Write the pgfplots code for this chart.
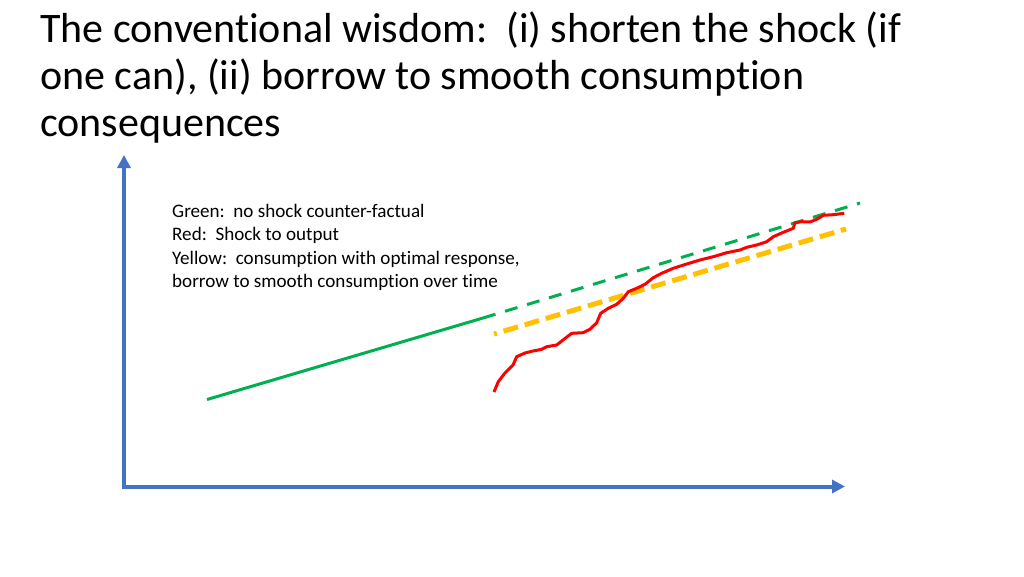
\documentclass[border=0pt]{standalone}
\usepackage{fontspec}
\setmainfont{Carlito}[Ligatures=NoCommon]
\usepackage{pgfplots}
\pgfplotsset{compat=1.18}
\usetikzlibrary{arrows.meta}

\definecolor{axblue}{HTML}{4472C4}
\definecolor{okgreen}{HTML}{00B050}
\definecolor{shockred}{HTML}{FF0000}
\definecolor{cyellow}{HTML}{FFC000}

\begin{document}
\begin{tikzpicture}
\begin{axis}[
    width=1024bp, height=576bp, scale only axis,
    xmin=0, xmax=1024, ymin=0, ymax=576,
    y dir=reverse,
    hide axis, clip=false,
]
    % page frame
    \path (axis cs:0,0) rectangle (axis cs:1024,576);

    % axes drawn as arrows
    \addplot[axblue, line width=4bp, -{Triangle[length=13bp,width=13bp]}]
        coordinates {(124,487) (124,155)};
    \addplot[axblue, line width=4bp, -{Triangle[length=13bp,width=13bp]}]
        coordinates {(122,486.5) (845,486.5)};

    % no shock counter-factual
    \addplot[okgreen, line width=3bp] coordinates {(207,399.5) (483,318)};
    \addplot[okgreen, line width=3bp, dash pattern=on 13bp off 10bp]
        coordinates {(483,318) (860,203)};

    % optimal consumption
    \addplot[cyellow, line width=5bp, dash pattern=on 15bp off 7bp, dash phase=12bp]
        coordinates {(494,334) (846,229)};

    % shock to output
    \addplot[shockred, line width=3bp, line join=round] coordinates {
        (494,392) (498.3,381.7) (505,373) (513,365) (516.7,356.7)
        (525,353) (533,351) (541.7,349.3) (546.7,346.7) (556.7,345)
        (563,340) (571.7,333.3) (583,332.7) (590,329.3) (596.7,322.7)
        (600.7,313.3) (608.3,308.3) (616.7,304.3) (623.3,298.3) (628.3,291.7)
        (636.7,288.3) (645,284.3) (653.3,277.7) (661.7,273.3) (673.3,268.3)
        (686.7,264) (700,260) (713.3,256.7) (726.7,252.7) (740,250)
        (746.7,247.3) (756.7,245) (766.7,241.7) (773.3,236.7) (783.3,232.3)
        (793.3,228.3) (795,222.7) (801.7,221.7) (810,222) (816.7,219.3)
        (823.3,215.3) (833.3,214.7) (844.3,213.3)
    };

    % title
    \begin{scope}[every node/.style={anchor=base west, inner sep=0pt,
        font=\fontsize{42bp}{46bp}\selectfont}]
    \node at (axis cs:40,43) {The conventional wisdom:\ \ (i) shorten the shock (if};
    \node at (axis cs:40,89.5) {one can), (ii) borrow to smooth consumption};
    \node at (axis cs:40,136) {consequences};
    \end{scope}

    % legend text
    \begin{scope}[every node/.style={anchor=base west, inner sep=0pt,
        font=\fontsize{19.1bp}{23bp}\selectfont}]
    \node at (axis cs:172,217) {Green:\ \ no shock counter-factual};
    \node at (axis cs:172,240.5) {Red:\ \ Shock to output};
    \node at (axis cs:172,264) {Yellow:\ \ consumption with optimal response,};
    \node at (axis cs:172,287) {borrow to smooth consumption over time};
    \end{scope}
\end{axis}
\end{tikzpicture}
\end{document}
